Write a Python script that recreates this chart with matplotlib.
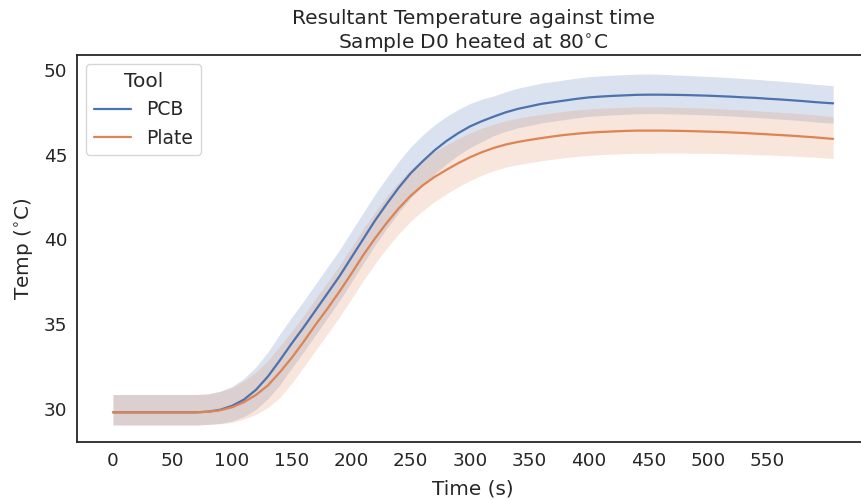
import numpy as np
import matplotlib
matplotlib.use('Agg')
import matplotlib.pyplot as plt
import seaborn as sns

# time axis (s)
time = list(range(0, 601, 10)) + [605]

# mean temperatures
pcb_mean = [29.8, 29.8, 29.8, 29.8, 29.8, 29.8, 29.8, 29.8, 29.84, 29.95,
            30.18, 30.55, 31.12, 31.9, 32.85, 33.85, 34.8, 35.8, 36.8, 37.8,
            38.9, 40.0, 41.1, 42.1, 43.05, 43.9, 44.6, 45.25, 45.8, 46.27,
            46.67, 46.98, 47.25, 47.5, 47.7, 47.85, 48.0, 48.1, 48.2, 48.3,
            48.38, 48.43, 48.47, 48.5, 48.53, 48.54, 48.54, 48.53, 48.52, 48.5,
            48.48, 48.45, 48.42, 48.38, 48.35, 48.3, 48.26, 48.21, 48.16, 48.1,
            48.05, 48.03]
plate_mean = [29.8, 29.8, 29.8, 29.8, 29.8, 29.8, 29.8, 29.8, 29.83, 29.92,
              30.1, 30.4, 30.82, 31.38, 32.15, 33.0, 33.95, 34.95, 35.9, 36.9,
              37.95, 39.05, 40.05, 40.98, 41.83, 42.57, 43.18, 43.68, 44.1, 44.5,
              44.85, 45.15, 45.4, 45.6, 45.75, 45.87, 45.98, 46.08, 46.17, 46.24,
              46.3, 46.34, 46.37, 46.4, 46.42, 46.42, 46.42, 46.41, 46.4, 46.38,
              46.36, 46.34, 46.31, 46.28, 46.24, 46.2, 46.16, 46.12, 46.07, 46.02,
              45.96, 45.93]

# band extents above / below the mean
pcb_up = ([1.05] * 9 + [1.1, 1.15, 1.25, 1.35, 1.45] + [1.55] * 13
          + [1.5, 1.45, 1.4, 1.35, 1.3] + [1.22] * 14
          + [1.2, 1.18, 1.16, 1.15, 1.14, 1.13, 1.12, 1.11, 1.1, 1.09, 1.08,
             1.07, 1.06, 1.06, 1.05, 1.05])
pcb_dn = ([0.75] * 9 + [0.8, 0.9, 1.0, 1.15, 1.3] + [1.45] * 13
          + [1.4, 1.35, 1.3, 1.25, 1.2] + [1.12] * 14
          + [1.12, 1.12, 1.13, 1.13, 1.14, 1.14, 1.14, 1.15, 1.15, 1.15, 1.16,
             1.16, 1.16, 1.17, 1.17, 1.17])
plate_up = ([1.05] * 9 + [1.1, 1.15, 1.25, 1.35, 1.45] + [1.55] * 13
            + [1.5, 1.48, 1.45, 1.43, 1.42] + [1.4] * 14
            + [1.4, 1.39, 1.39, 1.38, 1.38, 1.37, 1.36, 1.36, 1.35, 1.35, 1.34,
               1.34, 1.33, 1.33, 1.32, 1.32])
plate_dn = ([0.75] * 9 + [0.8, 0.9, 1.0, 1.15, 1.3] + [1.5] * 13
            + [1.45, 1.42, 1.4, 1.38, 1.36] + [1.34] * 14
            + [1.33, 1.32, 1.31, 1.3, 1.28, 1.27, 1.26, 1.25, 1.24, 1.22, 1.21,
               1.2, 1.19, 1.17, 1.16, 1.15])

tools = ['PCB', 'Plate']

sns.set_style('white')
plt.rcParams['font.family'] = ['DejaVu Sans']
pal = sns.color_palette('deep')

fig = plt.figure(figsize=(8.62, 5.01), dpi=100)
ax = fig.add_axes([0.0893, 0.1178, 0.919, 0.7724])

t = np.array(time)
series = [(pcb_mean, pcb_up, pcb_dn, pal[0]), (plate_mean, plate_up, plate_dn, pal[1])]
for name, (mean, up, dn, c) in zip(tools, series):
    m = np.array(mean)
    ax.fill_between(t, m - np.array(dn), m + np.array(up), color=c, alpha=0.2, lw=0)
    ax.plot(t, m, color=c, lw=1.6, label=name)

ax.set_xlim(-30.25, 635.25)
ax.set_ylim(28.05, 50.88)
ax.set_xticks(range(0, 551, 50))
ax.set_yticks(range(30, 51, 5))
ax.tick_params(labelsize=13.3, colors='.15')
for s in ax.spines.values():
    s.set_color('.15')
    s.set_linewidth(1.3)

ax.set_xlabel('Time (s)', fontsize=14.4, color='.15', labelpad=7)
ax.set_ylabel('Temp ($^{\\circ}$C)', fontsize=14.4, color='.15', labelpad=6)
ax.set_title('Resultant Temperature against time\nSample D0 heated at 80$^{\\circ}$C',
             fontsize=14.5, color='.15', pad=5)

leg = ax.legend(title='Tool', loc='upper left', fontsize=13.5, title_fontsize=14.5)

fig.savefig('out.png', dpi=100)
